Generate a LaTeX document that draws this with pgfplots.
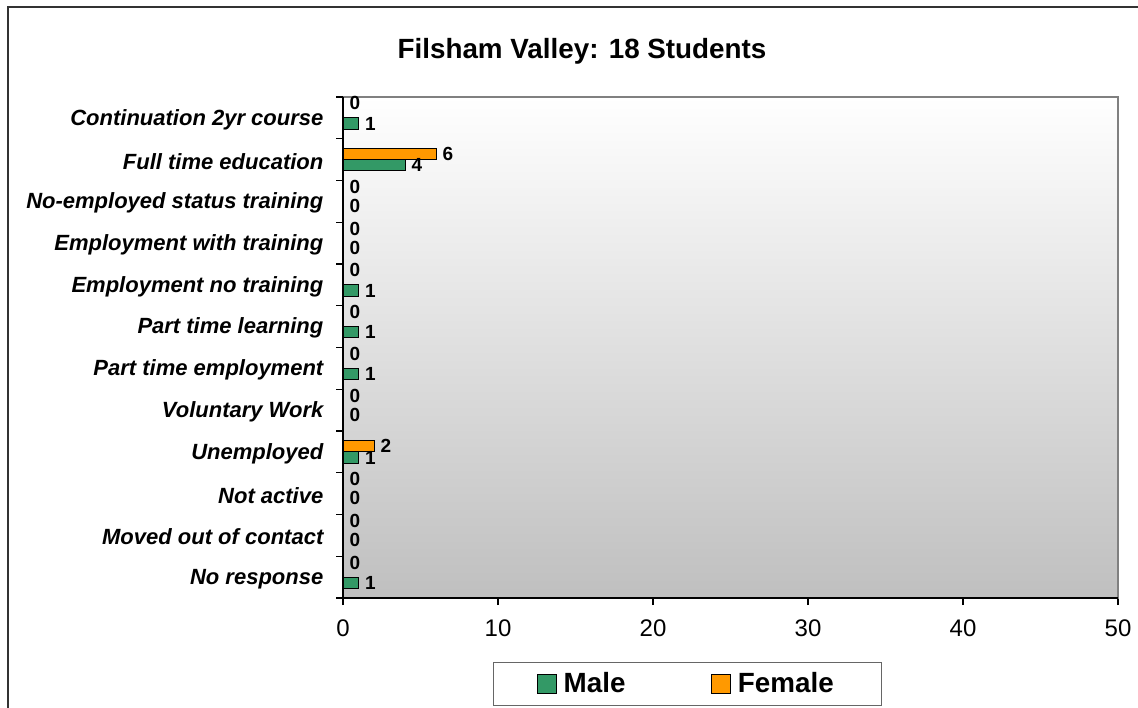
\documentclass[border=0pt]{standalone}
\usepackage{fontspec}
\setmainfont{Liberation Sans}
\usepackage{pgfplots}
\usepackage{pgfplotstable}
\pgfplotsset{compat=1.18}
\definecolor{male}{RGB}{51,153,102}
\definecolor{female}{RGB}{255,153,0}
\pgfplotstableread{
y male female
0 1 0
1 0 0
2 0 0
3 1 2
4 0 0
5 1 0
6 1 0
7 1 0
8 0 0
9 0 0
10 4 6
11 1 0
}\datatable
\begin{document}
\begin{tikzpicture}
\path[use as bounding box] (0,0) rectangle (569pt,353.5pt);
\draw[line width=1pt, black!80] (4pt,-5pt) -- (4pt,350pt) -- (580pt,350pt);
\begin{axis}[
  at={(171.5pt,54.5pt)}, anchor=south west,
  scale only axis, width=387.5pt, height=250.5pt,
  xbar, bar width=0.27,
  clip=false,
  /pgf/number format/assume math mode=true,
  xmin=0, xmax=50, ymin=-0.5, ymax=11.5,
  xtick={0,10,...,50},
  ytick={-0.5,0.5,...,10.5},
  yticklabels={No response, Moved out of contact, Not active, Unemployed, Voluntary Work, Part time employment, Part time learning, Employment no training, Employment with training, No-employed status training, Full time education, Continuation 2yr course},
  extra y ticks={11.5}, extra y tick labels={},
  tick pos=left, tick align=outside,
  major tick length=3.5pt,
  tick style={black, line width=0.6pt},
  axis line style={black!50, line width=0.6pt},
  axis background/.style={shade, top color=white, bottom color=black!25},
  yticklabel style={font=\bfseries\itshape\fontsize{11}{13}\selectfont, yshift=9.6pt, xshift=-2.8pt},
  xticklabel style={font=\fontsize{12}{14}\selectfont, yshift=-4pt},
  nodes near coords style={font=\bfseries\fontsize{9.5}{11}\selectfont, black, inner xsep=3pt, inner ysep=0.5pt},
  title={Filsham Valley: 18 Students},
  title style={at={(0.3084,1.068)}, anchor=center, font=\bfseries\fontsize{13.9}{16}\selectfont},
  legend columns=2,
  legend style={at={(0.4445,-0.1717)}, anchor=center, draw=black!60, line width=0.6pt,
    font=\bfseries\fontsize{13.9}{16}\selectfont,
    /tikz/every even column/.append style={column sep=41pt},
    inner xsep=22pt, inner ysep=3pt},
  legend image code/.code={\draw[#1, draw=black, line width=0.5pt] (0pt,-4.75pt) rectangle (9.5pt,4.75pt); \path[draw=none, fill=none] (0pt,0pt) -- (11pt,0pt);},
]
\addplot[fill=male, draw=black, line width=0.5pt, bar shift=-0.135,
  nodes near coords={\pgfmathfloatifflags{\pgfplotspointmeta}{0}{\raisebox{0.5pt}[\height][\depth]{0}}{\pgfmathprintnumber{\pgfplotspointmeta}}}]
  table[x=male, y=y] {\datatable};
\addplot[fill=female, draw=black, line width=0.5pt, bar shift=0.135,
  nodes near coords={\pgfmathfloatifflags{\pgfplotspointmeta}{0}{\raisebox{4.5pt}[\height][\depth]{0}}{\pgfmathprintnumber{\pgfplotspointmeta}}}]
  table[x=female, y=y] {\datatable};
\legend{Male, Female}
\draw[black, line width=0.6pt] (rel axis cs:0,1) -- (rel axis cs:0,0) -- (rel axis cs:1,0);
\end{axis}
\end{tikzpicture}
\end{document}
